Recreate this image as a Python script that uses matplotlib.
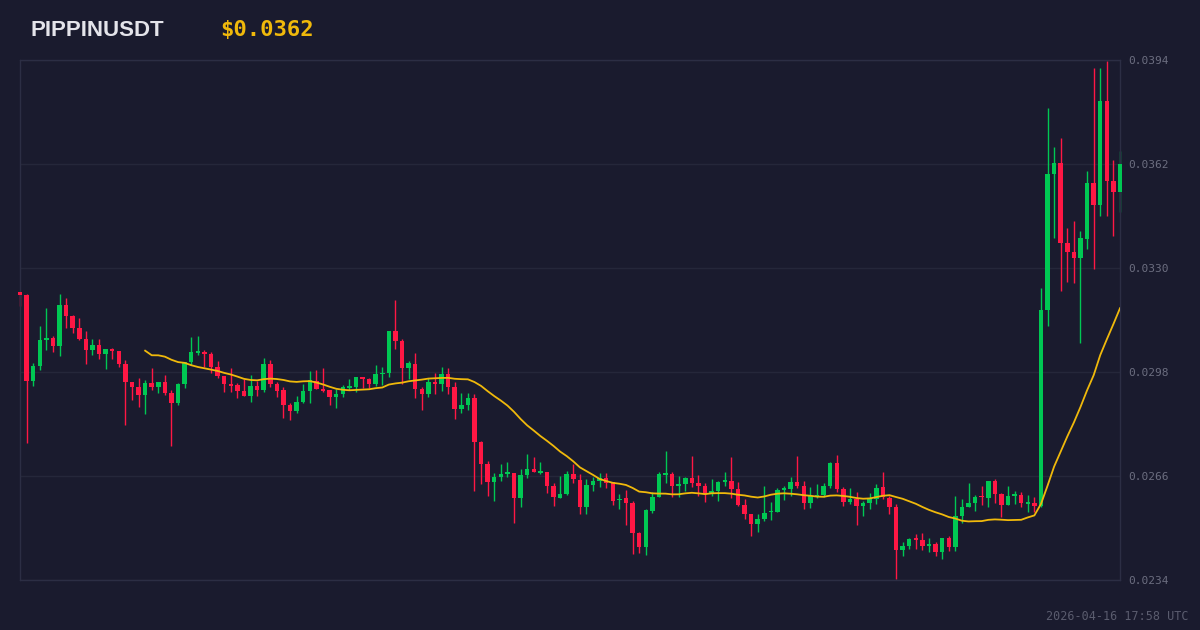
import matplotlib
matplotlib.use("Agg")
import matplotlib.pyplot as plt
import numpy as np
import pandas as pd

symbol = "PIPPINUSDT"
last_price_label = "$0.0362"
timestamp = "2026-04-16 17:58 UTC"

opens = [
    0.03227, 0.03217, 0.02953, 0.02999, 0.03078, 0.03084, 0.03061, 0.03186, 0.03152, 0.03116,
    0.03081, 0.03047, 0.03063, 0.03036, 0.03051, 0.03046, 0.03005, 0.02948, 0.02935, 0.02908,
    0.02945, 0.02935, 0.02949, 0.02916, 0.02886, 0.02942, 0.03012, 0.03039, 0.03042, 0.03035,
    0.02995, 0.02968, 0.02942, 0.02940, 0.02922, 0.02906, 0.02937, 0.02925, 0.03005, 0.02943,
    0.02925, 0.02878, 0.02860, 0.02887, 0.02921, 0.02953, 0.02928, 0.02925, 0.02902, 0.02912,
    0.02931, 0.02935, 0.02964, 0.02958, 0.02943, 0.02973, 0.02976, 0.03106, 0.03075, 0.02991,
    0.03005, 0.02928, 0.02912, 0.02950, 0.02943, 0.02974, 0.02933, 0.02865, 0.02879, 0.02901,
    0.02766, 0.02697, 0.02641, 0.02656, 0.02666, 0.02670, 0.02593, 0.02664, 0.02682, 0.02669,
    0.02671, 0.02630, 0.02593, 0.02604, 0.02665, 0.02649, 0.02564, 0.02632, 0.02645, 0.02655,
    0.02641, 0.02585, 0.02591, 0.02578, 0.02484, 0.02443, 0.02553, 0.02596, 0.02664, 0.02666,
    0.02630, 0.02634, 0.02653, 0.02639, 0.02629, 0.02604, 0.02615, 0.02642, 0.02645, 0.02620,
    0.02571, 0.02542, 0.02512, 0.02528, 0.02548, 0.02550, 0.02617, 0.02620, 0.02641, 0.02629,
    0.02576, 0.02598, 0.02602, 0.02629, 0.02701, 0.02620, 0.02581, 0.02589, 0.02569, 0.02576,
    0.02589, 0.02625, 0.02593, 0.02566, 0.02431, 0.02445, 0.02466, 0.02463, 0.02445, 0.02450,
    0.02427, 0.02468, 0.02441, 0.02537, 0.02566, 0.02576, 0.02598, 0.02591, 0.02646, 0.02605,
    0.02571, 0.02599, 0.02602, 0.02575, 0.02578, 0.02568, 0.03171, 0.03588, 0.03624, 0.03378,
    0.03350, 0.03332, 0.03389, 0.03561, 0.03494, 0.03814, 0.03568, 0.03533,
]

highs = [
    0.03227, 0.03220, 0.03007, 0.03122, 0.03177, 0.03091, 0.03220, 0.03207, 0.03155, 0.03145,
    0.03106, 0.03081, 0.03081, 0.03050, 0.03055, 0.03046, 0.03017, 0.02948, 0.02961, 0.02955,
    0.02991, 0.02950, 0.02971, 0.02925, 0.02945, 0.03012, 0.03087, 0.03091, 0.03048, 0.03042,
    0.03015, 0.02968, 0.02991, 0.02945, 0.02958, 0.02971, 0.02953, 0.03022, 0.03017, 0.02950,
    0.02935, 0.02884, 0.02906, 0.02943, 0.02983, 0.02986, 0.02991, 0.02925, 0.02927, 0.02940,
    0.02958, 0.02964, 0.02964, 0.02961, 0.03002, 0.02995, 0.03106, 0.03201, 0.03081, 0.03014,
    0.03039, 0.02933, 0.02961, 0.02978, 0.02995, 0.02991, 0.02950, 0.02914, 0.02914, 0.02911,
    0.02769, 0.02706, 0.02668, 0.02696, 0.02702, 0.02670, 0.02681, 0.02728, 0.02718, 0.02702,
    0.02673, 0.02639, 0.02660, 0.02675, 0.02696, 0.02667, 0.02651, 0.02658, 0.02670, 0.02670,
    0.02642, 0.02605, 0.02617, 0.02584, 0.02489, 0.02559, 0.02612, 0.02671, 0.02737, 0.02671,
    0.02660, 0.02658, 0.02722, 0.02663, 0.02639, 0.02651, 0.02646, 0.02671, 0.02718, 0.02641,
    0.02588, 0.02542, 0.02543, 0.02629, 0.02581, 0.02622, 0.02629, 0.02658, 0.02722, 0.02646,
    0.02625, 0.02635, 0.02638, 0.02704, 0.02725, 0.02627, 0.02622, 0.02612, 0.02584, 0.02609,
    0.02635, 0.02672, 0.02598, 0.02574, 0.02458, 0.02470, 0.02482, 0.02486, 0.02469, 0.02458,
    0.02470, 0.02476, 0.02598, 0.02588, 0.02638, 0.02602, 0.02629, 0.02646, 0.02651, 0.02607,
    0.02629, 0.02614, 0.02610, 0.02602, 0.02594, 0.03238, 0.03793, 0.03673, 0.03701, 0.03424,
    0.03445, 0.03414, 0.03598, 0.03914, 0.03914, 0.03938, 0.03632, 0.03661,
]

lows = [
    0.03183, 0.02762, 0.02937, 0.02986, 0.03048, 0.03042, 0.03029, 0.03114, 0.03099, 0.03078,
    0.03004, 0.03032, 0.03019, 0.02988, 0.03019, 0.02996, 0.02817, 0.02894, 0.02873, 0.02851,
    0.02925, 0.02914, 0.02909, 0.02753, 0.02878, 0.02930, 0.03002, 0.03032, 0.02996, 0.02978,
    0.02961, 0.02919, 0.02919, 0.02899, 0.02906, 0.02889, 0.02906, 0.02919, 0.02935, 0.02902,
    0.02838, 0.02832, 0.02855, 0.02884, 0.02884, 0.02927, 0.02919, 0.02878, 0.02868, 0.02904,
    0.02925, 0.02919, 0.02930, 0.02930, 0.02937, 0.02940, 0.02964, 0.03051, 0.02943, 0.02958,
    0.02899, 0.02863, 0.02904, 0.02912, 0.02922, 0.02912, 0.02834, 0.02855, 0.02863, 0.02615,
    0.02634, 0.02598, 0.02584, 0.02646, 0.02656, 0.02516, 0.02566, 0.02653, 0.02671, 0.02665,
    0.02607, 0.02568, 0.02591, 0.02602, 0.02639, 0.02544, 0.02543, 0.02615, 0.02627, 0.02624,
    0.02571, 0.02558, 0.02509, 0.02420, 0.02424, 0.02417, 0.02547, 0.02596, 0.02639, 0.02596,
    0.02596, 0.02615, 0.02627, 0.02599, 0.02579, 0.02599, 0.02584, 0.02630, 0.02591, 0.02569,
    0.02528, 0.02475, 0.02489, 0.02522, 0.02525, 0.02550, 0.02586, 0.02598, 0.02622, 0.02559,
    0.02561, 0.02591, 0.02596, 0.02622, 0.02612, 0.02569, 0.02574, 0.02509, 0.02537, 0.02559,
    0.02574, 0.02589, 0.02543, 0.02342, 0.02414, 0.02434, 0.02434, 0.02433, 0.02427, 0.02414,
    0.02405, 0.02430, 0.02429, 0.02515, 0.02566, 0.02553, 0.02571, 0.02566, 0.02576, 0.02535,
    0.02571, 0.02574, 0.02566, 0.02550, 0.02550, 0.02565, 0.03122, 0.03391, 0.03229, 0.03258,
    0.03253, 0.03068, 0.03358, 0.03296, 0.03461, 0.03461, 0.03399, 0.03471,
]

closes = [
    0.03217, 0.02953, 0.02999, 0.03078, 0.03084, 0.03060, 0.03186, 0.03152, 0.03116, 0.03081,
    0.03047, 0.03063, 0.03036, 0.03050, 0.03045, 0.03006, 0.02948, 0.02935, 0.02909, 0.02947,
    0.02935, 0.02950, 0.02916, 0.02886, 0.02942, 0.03012, 0.03042, 0.03044, 0.03036, 0.02995,
    0.02968, 0.02943, 0.02938, 0.02922, 0.02906, 0.02937, 0.02925, 0.03005, 0.02943, 0.02922,
    0.02878, 0.02860, 0.02887, 0.02921, 0.02955, 0.02928, 0.02922, 0.02902, 0.02912, 0.02933,
    0.02936, 0.02964, 0.02958, 0.02943, 0.02974, 0.02978, 0.03106, 0.03075, 0.02991, 0.03007,
    0.02927, 0.02912, 0.02950, 0.02943, 0.02974, 0.02933, 0.02865, 0.02879, 0.02901, 0.02766,
    0.02697, 0.02641, 0.02656, 0.02666, 0.02669, 0.02593, 0.02664, 0.02682, 0.02671, 0.02673,
    0.02630, 0.02596, 0.02604, 0.02665, 0.02650, 0.02565, 0.02632, 0.02645, 0.02653, 0.02639,
    0.02584, 0.02589, 0.02578, 0.02484, 0.02443, 0.02555, 0.02596, 0.02666, 0.02667, 0.02630,
    0.02634, 0.02653, 0.02639, 0.02630, 0.02604, 0.02615, 0.02642, 0.02645, 0.02620, 0.02571,
    0.02543, 0.02512, 0.02528, 0.02547, 0.02552, 0.02617, 0.02620, 0.02641, 0.02629, 0.02576,
    0.02598, 0.02602, 0.02629, 0.02701, 0.02619, 0.02581, 0.02589, 0.02569, 0.02578, 0.02589,
    0.02624, 0.02594, 0.02566, 0.02431, 0.02445, 0.02467, 0.02463, 0.02445, 0.02450, 0.02427,
    0.02468, 0.02441, 0.02537, 0.02564, 0.02576, 0.02596, 0.02594, 0.02646, 0.02605, 0.02571,
    0.02598, 0.02604, 0.02576, 0.02578, 0.02568, 0.03171, 0.03588, 0.03624, 0.03378, 0.03350,
    0.03332, 0.03391, 0.03561, 0.03494, 0.03814, 0.03568, 0.03533, 0.03620,
]

ma_period = 20
y_ticks = [0.0234, 0.0266, 0.0298, 0.0330, 0.0362, 0.0394]
y_tick_labels = ["0.0234", "0.0266", "0.0298", "0.0330", "0.0362", "0.0394"]

BG = "#1a1b2e"
GREEN = "#00c853"
RED = "#ff1744"
YELLOW = "#f0b90b"
GRID = "#25273a"
SPINE = "#2c2e44"

o = np.array(opens)
h = np.array(highs)
l = np.array(lows)
c = np.array(closes)
n = len(c)
x = np.arange(n)

fig = plt.figure(figsize=(12, 6.3), dpi=100, facecolor=BG)
ax = fig.add_axes([20 / 1200, 50 / 630, 1100 / 1200, 520 / 630], facecolor=BG)

up = c >= o
colors = np.where(up, GREEN, RED)
ax.vlines(x, l, h, colors=colors, linewidth=1.0, zorder=2, clip_on=False)
body_bottom = np.minimum(o, c)
body_h = np.maximum(np.abs(c - o), 0.00005)
ax.bar(x, body_h, bottom=body_bottom, width=0.68, color=colors, linewidth=0,
       zorder=3, clip_on=False)

ma = pd.Series(c).rolling(ma_period).mean()
ax.plot(x, ma, color=YELLOW, linewidth=1.3, zorder=4)

ax.set_xlim(0, n - 1)
ax.set_ylim(y_ticks[0], y_ticks[-1])
ax.set_yticks(y_ticks)
ax.set_yticklabels(y_tick_labels)
ax.yaxis.tick_right()
ax.tick_params(axis="y", length=0, pad=6, labelsize=8, labelcolor="#6c6e80")
for lbl in ax.get_yticklabels():
    lbl.set_fontfamily("DejaVu Sans Mono")
ax.set_xticks([])
ax.grid(axis="y", color=GRID, linewidth=1)
ax.set_axisbelow(True)
for sp in ax.spines.values():
    sp.set_color(SPINE)
    sp.set_linewidth(1)

fig.text(30 / 1200, 1 - 36 / 630, symbol, color="#e4e4ea", fontsize=16,
         fontweight="bold", family="Liberation Sans", va="baseline", ha="left")
fig.text(220 / 1200, 1 - 36 / 630, last_price_label, color=YELLOW, fontsize=16,
         fontweight="bold", family="DejaVu Sans Mono", va="baseline", ha="left")
fig.text(1189 / 1200, 1 - 620 / 630, timestamp, color="#5a5c6e", fontsize=8.5,
         family="DejaVu Sans Mono", va="baseline", ha="right")

fig.savefig("out.png", dpi=100, facecolor=BG)
